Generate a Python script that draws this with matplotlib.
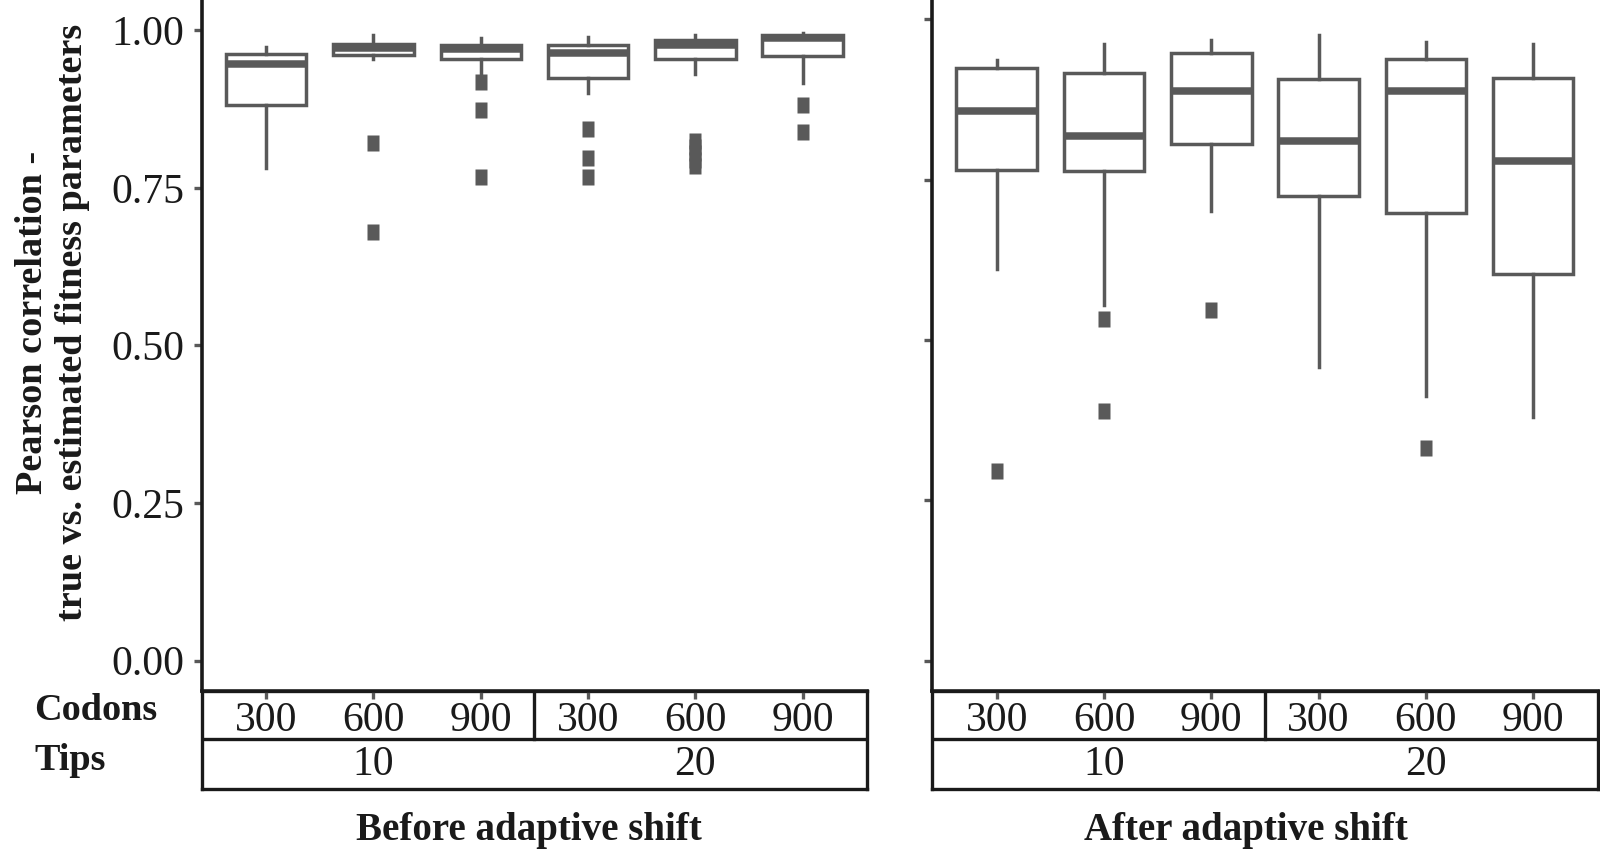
import matplotlib.pyplot as plt

plt.rcParams['font.family'] = ['Liberation Serif', 'DejaVu Serif']

# categories
codons = ['300', '600', '900', '300', '600', '900']
tips = ['10', '20']
positions = [1, 2, 3, 4, 5, 6]

# before adaptive shift (box summaries)
before_whislo = [0.782, 0.955, 0.930, 0.901, 0.931, 0.917]
before_q1 = [0.881, 0.960, 0.955, 0.925, 0.955, 0.959]
before_med = [0.946, 0.972, 0.971, 0.964, 0.977, 0.987]
before_q3 = [0.963, 0.978, 0.977, 0.977, 0.984, 0.993]
before_whishi = [0.974, 0.993, 0.988, 0.990, 0.993, 0.996]
before_out = [[], [0.821, 0.680], [0.918, 0.874, 0.767],
              [0.843, 0.797, 0.767], [0.825, 0.815, 0.805, 0.795, 0.785],
              [0.881, 0.839]]

# after adaptive shift
after_whislo = [0.610, 0.555, 0.701, 0.458, 0.412, 0.380]
after_q1 = [0.765, 0.763, 0.806, 0.724, 0.698, 0.603]
after_med = [0.857, 0.818, 0.888, 0.811, 0.888, 0.779]
after_q3 = [0.924, 0.916, 0.947, 0.907, 0.938, 0.908]
after_whishi = [0.937, 0.962, 0.967, 0.975, 0.964, 0.962]
after_out = [[0.296], [0.533, 0.390], [0.547], [], [0.331], []]

GRAY = '#595959'
BLACK = '#1a1a1a'
# outlier squares look a bit taller than wide in the picture
rect = [(-0.39, -0.5), (0.39, -0.5), (0.39, 0.5), (-0.39, 0.5), (-0.39, -0.5)]


def make_stats(lo, q1, med, q3, hi, out):
    return [dict(whislo=lo[i], q1=q1[i], med=med[i], q3=q3[i], whishi=hi[i],
                 fliers=out[i]) for i in range(len(med))]


fig = plt.figure(figsize=(16, 8.52), dpi=100)

W = 0.4158
panels = [
    (0.1261, make_stats(before_whislo, before_q1, before_med, before_q3, before_whishi, before_out),
     (-0.048, 1.048), True, 'Before adaptive shift', 0.3305),
    (0.5827, make_stats(after_whislo, after_q1, after_med, after_q3, after_whishi, after_out),
     (-0.047, 1.030), False, 'After adaptive shift', 0.7785),
]

for x0, stats, ylim, show_labels, title, title_x in panels:
    # table under the panel
    tax = fig.add_axes([x0, 0.0739, W, 0.115])
    tax.patch.set_visible(False)
    tax.set_xlim(0.4, 6.6)
    tax.set_ylim(0, 1)
    tax.set_xticks([])
    tax.set_yticks([])
    for sp in tax.spines.values():
        sp.set_color(BLACK)
        sp.set_linewidth(2.4)
    tax.axhline(0.507, color=BLACK, lw=2.4)
    tax.plot([3.5, 3.5], [0.507, 1], color=BLACK, lw=2.4)
    for p, c in zip(positions, codons):
        tax.text(p, 0.595, c, ha='center', va='baseline', fontsize=30, color=BLACK)
    for p, t in zip([2, 5], tips):
        tax.text(p, 0.143, t, ha='center', va='baseline', fontsize=30, color=BLACK)

    ax = fig.add_axes([x0, 0.189, W, 0.811])
    ax.bxp(stats, positions=positions, widths=0.75, showcaps=False,
           patch_artist=True,
           boxprops=dict(facecolor='white', edgecolor=GRAY, linewidth=2.5),
           medianprops=dict(color=GRAY, linewidth=5.4, solid_capstyle='butt'),
           whiskerprops=dict(color=GRAY, linewidth=2.5),
           flierprops=dict(marker=rect, markersize=11, markerfacecolor=GRAY,
                           markeredgecolor='none'))
    ax.set_xlim(0.4, 6.6)
    ax.set_ylim(*ylim)
    ax.set_yticks([0, 0.25, 0.5, 0.75, 1.0])
    if show_labels:
        ax.set_yticklabels(['0.00', '0.25', '0.50', '0.75', '1.00'])
    else:
        ax.set_yticklabels([])
    ax.set_xticks(positions)
    ax.set_xticklabels([])
    ax.tick_params(axis='both', direction='out', length=5.5, width=2.4, color=GRAY,
                   labelsize=30, labelcolor=BLACK, pad=7)
    for s in ['top', 'right']:
        ax.spines[s].set_visible(False)
    for s in ['left', 'bottom']:
        ax.spines[s].set_color(BLACK)
        ax.spines[s].set_linewidth(2.6)

    fig.text(title_x, 0.0141, title, ha='center', va='baseline',
             fontsize=28, fontweight='bold', color=BLACK)

fig.text(0.0213, 0.155, 'Codons', ha='left', va='baseline', fontsize=27.5,
         fontweight='bold', color=BLACK)
fig.text(0.0213, 0.0962, 'Tips', ha='left', va='baseline', fontsize=27.5,
         fontweight='bold', color=BLACK)
fig.text(0.033, 0.622, 'Pearson correlation -\ntrue vs. estimated fitness parameters',
         rotation=90, ha='center', va='center', multialignment='center',
         fontsize=27.5, fontweight='bold', color=BLACK)

fig.savefig('out.png', dpi=100)
